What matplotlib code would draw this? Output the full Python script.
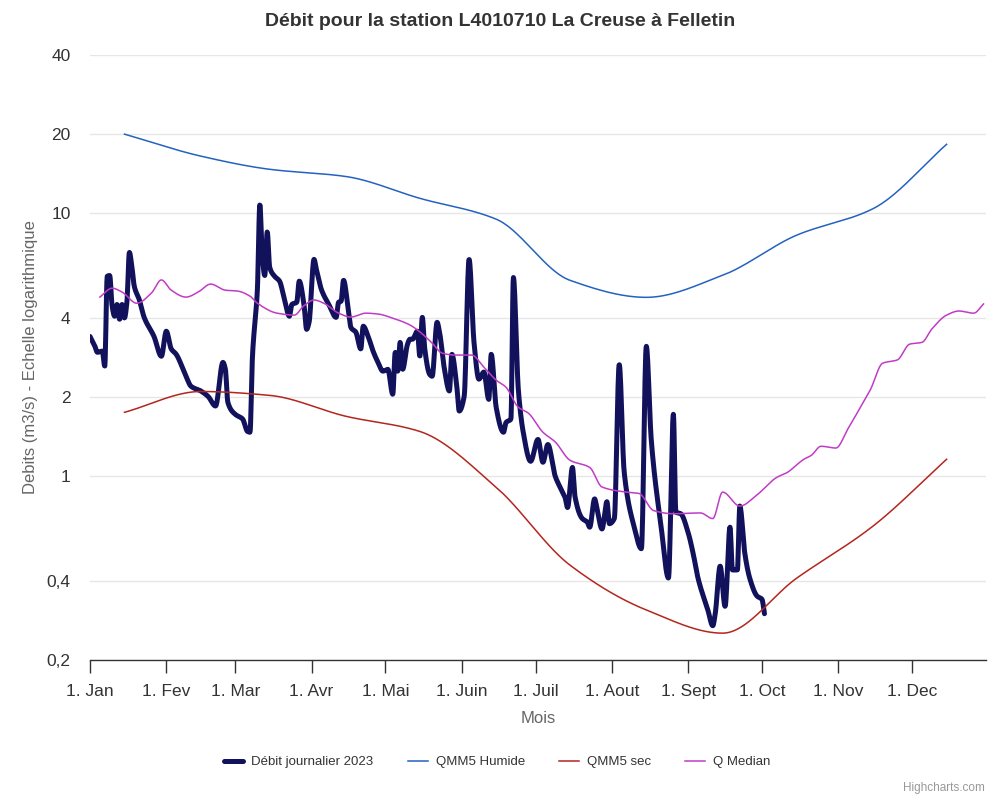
import numpy as np
import matplotlib
matplotlib.use("Agg")
import matplotlib.pyplot as plt
from matplotlib.lines import Line2D

# ---------------- data ----------------
title = "Débit pour la station L4010710 La Creuse à Felletin"
month_starts = [0, 31, 59, 90, 120, 151, 181, 212, 243, 273, 304, 334]
month_labels = ["1. Jan", "1. Fev", "1. Mar", "1. Avr", "1. Mai", "1. Juin",
                "1. Juil", "1. Aout", "1. Sept", "1. Oct", "1. Nov", "1. Dec"]
y_ticks = [0.2, 0.4, 1, 2, 4, 10, 20, 40]
y_tick_labels = ["0,2", "0,4", "1", "2", "4", "10", "20", "40"]

# day of year (0 = 1 Jan) and daily flow 2023 (m3/s)
daily_days = [0, 2, 3, 5, 6, 7, 8, 9, 10, 11, 12, 13, 14, 15, 16, 17, 18, 20, 22, 26,
              29, 31, 33, 35, 39, 41, 45, 48, 51, 54, 55, 56, 59, 62, 64, 65, 66, 68, 69, 70,
              71, 72, 73, 75, 77, 79, 81, 82, 84, 85, 87, 88, 89, 91, 92, 94, 97, 100, 101, 102,
              103, 105, 106, 108, 110, 111, 113, 115, 117, 119, 121, 123, 124, 125, 126, 127, 129, 130, 131, 133,
              134, 135, 136, 138, 139, 141, 142, 144, 146, 147, 149, 150, 152, 154, 156, 158, 160, 162, 163, 165,
              168, 169, 171, 172, 174, 176, 179, 182, 184, 186, 189, 192, 193, 194, 196, 197, 200, 202, 203, 205,
              206, 208, 210, 211, 213, 215, 217, 221, 224, 226, 228, 232, 235, 237, 238, 240, 243, 245, 247, 251,
              253, 254, 256, 258, 260, 261, 263, 264, 266, 268, 271, 273, 274]
daily_vals = [3.40, 3.12, 2.96, 2.99, 2.62, 5.76, 5.80, 4.43, 4.06, 4.50, 3.95, 4.50, 4.00, 4.60, 7.10, 6.28, 5.27, 4.70, 4.02, 3.40,
              2.86, 3.56, 3.05, 2.91, 2.40, 2.20, 2.11, 2.01, 1.85, 2.71, 2.55, 1.91, 1.72, 1.65, 1.48, 1.47, 2.86, 5.13, 10.8, 6.86,
              5.80, 8.50, 6.23, 5.76, 5.52, 4.70, 4.06, 4.50, 4.59, 5.52, 4.43, 3.62, 3.85, 6.68, 6.10, 5.13, 4.50, 4.02, 4.59, 4.63,
              5.56, 4.24, 3.68, 3.53, 3.05, 3.72, 3.40, 2.99, 2.71, 2.51, 2.55, 2.05, 2.96, 2.51, 3.23, 2.55, 3.18, 3.32, 3.32, 3.56,
              2.86, 4.02, 3.05, 2.44, 2.40, 3.85, 3.53, 2.55, 2.11, 2.91, 2.20, 1.77, 2.01, 6.68, 3.23, 2.34, 2.49, 1.96, 2.91, 1.83,
              1.47, 1.60, 1.65, 5.70, 2.14, 1.47, 1.14, 1.38, 1.13, 1.32, 1.00, 0.87, 0.83, 0.76, 1.08, 0.84, 0.69, 0.67, 0.64, 0.82,
              0.75, 0.63, 0.80, 0.66, 0.69, 2.66, 1.04, 0.645, 0.53, 3.12, 1.38, 0.645, 0.41, 1.72, 0.73, 0.72, 0.61, 0.51, 0.41, 0.31,
              0.27, 0.30, 0.455, 0.32, 0.64, 0.44, 0.44, 0.77, 0.51, 0.41, 0.35, 0.34, 0.30]

# monthly reference curves (15th of each month)
mid_month_days = [14, 45, 73, 104, 134, 165, 195, 226, 257, 287, 318, 348]
qmm5_humide = [20.0, 16.5, 14.7, 13.8, 11.4, 9.5, 5.56, 4.79, 5.81, 8.25, 10.4, 18.3]
qmm5_sec = [1.75, 2.10, 2.03, 1.69, 1.48, 0.908, 0.459, 0.31, 0.253, 0.409, 0.645, 1.16]

# median flow
median_days = [4, 9, 13, 19, 25, 29, 33, 39, 44, 49, 55, 60, 65, 68, 76, 83, 87, 91, 95, 101,
               106, 112, 117, 123, 130, 133, 139, 143, 148, 155, 160, 165, 169, 174, 178, 184, 189, 195, 203, 208,
               218, 223, 229, 237, 248, 253, 257, 264, 271, 279, 283, 290, 293, 297, 303, 308, 313, 317, 322, 328,
               333, 338, 342, 348, 353, 359, 363]
median_vals = [4.80, 5.19, 5.02, 4.55, 4.98, 5.58, 5.10, 4.80, 5.02, 5.38, 5.10, 5.06, 4.84, 4.55, 4.17, 4.10, 4.46, 4.68, 4.55, 4.17,
               4.03, 4.17, 4.14, 3.99, 3.76, 3.60, 3.21, 2.94, 2.89, 2.89, 2.60, 2.32, 2.18, 1.83, 1.74, 1.47, 1.35, 1.15, 1.08, 0.91,
               0.87, 0.86, 0.74, 0.72, 0.725, 0.69, 0.87, 0.77, 0.85, 0.99, 1.03, 1.16, 1.20, 1.30, 1.28, 1.52, 1.83, 2.13, 2.69, 2.77,
               3.18, 3.23, 3.63, 4.10, 4.25, 4.17, 4.52]

series_names = ["Débit journalier 2023", "QMM5 Humide", "QMM5 sec", "Q Median"]
colors = ["#12125c", "#2462c0", "#b3261e", "#c03cc6"]


# ------------- smooth drawing (spline like the original) -------------
def pchip(x, y, xs):
    x = np.asarray(x, float)
    y = np.asarray(y, float)
    h = np.diff(x)
    delta = np.diff(y) / h
    n = len(x)
    d = np.zeros(n)
    for k in range(1, n - 1):
        if delta[k - 1] * delta[k] > 0:
            w1 = 2 * h[k] + h[k - 1]
            w2 = h[k] + 2 * h[k - 1]
            d[k] = (w1 + w2) / (w1 / delta[k - 1] + w2 / delta[k])
    d[0] = delta[0]
    d[-1] = delta[-1]
    idx = np.clip(np.searchsorted(x, xs) - 1, 0, n - 2)
    t = (xs - x[idx]) / h[idx]
    h00 = 2 * t**3 - 3 * t**2 + 1
    h10 = t**3 - 2 * t**2 + t
    h01 = -2 * t**3 + 3 * t**2
    h11 = t**3 - t**2
    return h00 * y[idx] + h10 * h[idx] * d[idx] + h01 * y[idx + 1] + h11 * h[idx] * d[idx + 1]


def smooth(days, vals):
    xs = np.linspace(days[0], days[-1], 2000)
    ys = 10 ** pchip(days, np.log10(vals), xs)
    return xs, ys


plt.rcParams["font.family"] = ["Liberation Sans", "DejaVu Sans"]

fig = plt.figure(figsize=(10, 8), dpi=100)
ax = fig.add_axes([0.09, 0.175, 0.896, 0.75625])

ax.set_yscale("log")
ax.set_ylim(0.2, 40)
ax.set_xlim(0, 364)

for yv in y_ticks:
    ax.axhline(yv, color="#e6e6e6", lw=1.0, zorder=0)

x, y = smooth(daily_days, daily_vals)
ax.plot(x, y, color=colors[0], lw=3.6, solid_capstyle="round", zorder=3)
x, y = smooth(mid_month_days, qmm5_humide)
ax.plot(x, y, color=colors[1], lw=1.1, zorder=4)
x, y = smooth(mid_month_days, qmm5_sec)
ax.plot(x, y, color=colors[2], lw=1.1, zorder=4)
x, y = smooth(median_days, median_vals)
ax.plot(x, y, color=colors[3], lw=1.1, zorder=4)

ax.set_yticks(y_ticks)
ax.set_yticklabels(y_tick_labels)
ax.yaxis.set_minor_locator(matplotlib.ticker.NullLocator())
ax.tick_params(axis="y", length=0, pad=14, labelsize=12.5, labelcolor="#333333")
ax.set_xticks(month_starts)
ax.set_xticklabels(month_labels)
ax.tick_params(axis="x", length=9, width=1.0, color="#333333", pad=8,
               labelsize=12.5, labelcolor="#333333", direction="out")

for s in ["top", "right", "left"]:
    ax.spines[s].set_visible(False)
ax.spines["bottom"].set_color("#333333")
ax.spines["bottom"].set_linewidth(1.0)

ax.set_ylabel("Debits (m3/s) - Echelle logarithmique", fontsize=12, color="#666666", labelpad=6)
ax.set_xlabel("Mois", fontsize=12, color="#666666", labelpad=9)

fig.text(0.5, 1 - 21 / 800, title, ha="center", va="center", fontsize=14,
         fontweight="bold", color="#333333")

handles = [Line2D([], [], color=colors[0], lw=3.6, solid_capstyle="round"),
           Line2D([], [], color=colors[1], lw=1.1),
           Line2D([], [], color=colors[2], lw=1.1),
           Line2D([], [], color=colors[3], lw=1.1)]
fig.legend(handles, series_names, loc="center", bbox_to_anchor=(0.497, 1 - 762 / 800),
           ncol=4, frameon=False, fontsize=9.5, handlelength=1.5, handletextpad=0.6,
           columnspacing=2.6, labelcolor="#333333")

fig.text(0.985, 1 - 788 / 800, "Highcharts.com", ha="right", va="center",
         fontsize=8.5, color="#999999")

fig.savefig("out.png", dpi=100, facecolor="white")
